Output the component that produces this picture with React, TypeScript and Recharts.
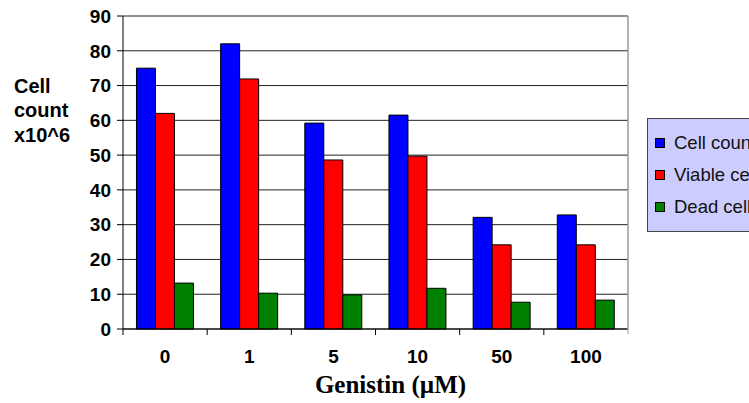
import { BarChart, Bar, XAxis, YAxis, CartesianGrid, Legend } from 'recharts';

// Genistin doses on the category axis (µM)
const doses = ['0', '1', '5', '10', '50', '100'];

// Counts per dose, x10^6 cells
const cellCount = [75, 82, 59.2, 61.5, 32.1, 32.8];
const viableCells = [62, 71.9, 48.6, 49.7, 24.2, 24.2];
const deadCells = [13.2, 10.3, 9.8, 11.7, 7.7, 8.3];

const yTicks = [0, 10, 20, 30, 40, 50, 60, 70, 80, 90];

const SERIES = [
  { key: 'cellCount', name: 'Cell count', color: '#0000FF' },
  { key: 'viableCells', name: 'Viable cells', color: '#FF0000' },
  { key: 'deadCells', name: 'Dead cells', color: '#008000' },
];

const SANS = "Arial, 'Liberation Sans', sans-serif";
const SERIF = "'Times New Roman', 'Liberation Serif', serif";

const data = doses.map((dose, i) => ({
  dose,
  cellCount: cellCount[i],
  viableCells: viableCells[i],
  deadCells: deadCells[i],
}));

// Category tick: label at the band centre, tick marks on the band edges
function DoseTick(props: any) {
  const { x, y, payload, index } = props;
  const half = payload.offset ?? 0;
  const last = index === doses.length - 1;
  return (
    <g>
      <line x1={x - half} x2={x - half} y1={y} y2={y + 6} stroke="#000" />
      {last && <line x1={x + half} x2={x + half} y1={y - 313} y2={y + 5} stroke="#999" />}
      <text
        x={x}
        y={y + 34}
        textAnchor="middle"
        fontFamily={SANS}
        fontWeight="bold"
        fontSize={19}
        fill="#000"
      >
        {payload.value}
      </text>
    </g>
  );
}

function LegendBox() {
  return (
    <div
      style={{
        width: 140,
        height: 114,
        boxSizing: 'border-box',
        background: '#CCCCFF',
        border: '1px solid #444',
        position: 'relative',
        fontFamily: SANS,
        fontSize: 18.5,
        color: '#111',
      }}
    >
      {SERIES.map((s, i) => (
        <div
          key={s.key}
          style={{
            position: 'absolute',
            left: 7,
            top: 14 + i * 32,
            display: 'flex',
            alignItems: 'center',
            whiteSpace: 'nowrap',
            lineHeight: '20px',
          }}
        >
          <span
            style={{
              display: 'inline-block',
              width: 8,
              height: 8,
              background: s.color,
              border: '1px solid #000',
              marginRight: 9,
            }}
          />
          {s.name}
        </div>
      ))}
    </div>
  );
}

export default function App() {
  return (
    <div
      style={{
        position: 'absolute',
        left: 0,
        top: 0,
        width: 749,
        height: 403,
        overflow: 'hidden',
        background: '#fff',
      }}
    >
      <BarChart
        width={749}
        height={403}
        data={data}
        margin={{ top: 16, right: 0, bottom: 0, left: 0 }}
        barCategoryGap="16%"
        barGap={0}
      >
        <CartesianGrid vertical={false} stroke="#222" />
        <XAxis
          dataKey="dose"
          height={74}
          axisLine={{ stroke: '#000' }}
          tickLine={false}
          tickSize={0}
          tickMargin={0}
          interval={0}
          tick={<DoseTick />}
          label={{
            content: (p: any) => {
              const vb = p.viewBox;
              return (
                <text
                  x={vb.x + vb.width / 2 + 15}
                  y={vb.y + 64}
                  textAnchor="middle"
                  fontFamily={SERIF}
                  fontWeight="bold"
                  fontSize={25}
                  fill="#000"
                >
                  Genistin (µM)
                </text>
              );
            },
          }}
        />
        <YAxis
          width={123}
          domain={[0, 90]}
          ticks={yTicks}
          interval={0}
          axisLine={{ stroke: '#000' }}
          tickLine={{ stroke: '#000' }}
          tickSize={6}
          tickMargin={6}
          tick={{ fill: '#000', fontFamily: SANS, fontWeight: 'bold', fontSize: 19 }}
          label={{
            content: () => (
              <text fontFamily={SANS} fontWeight="bold" fontSize={20} fill="#000">
                <tspan x={14} y={93}>Cell</tspan>
                <tspan x={14} y={117}>count</tspan>
                <tspan x={14} y={142}>x10^6</tspan>
              </text>
            ),
          }}
        />
        <YAxis yAxisId="frame" orientation="right" width={121} domain={[0, 90]} tick={false} tickLine={false} axisLine={{ stroke: '#999' }} />
        <Legend
          layout="vertical"
          align="center"
          verticalAlign="middle"
          content={() => <LegendBox />}
          wrapperStyle={{ left: 647, top: 118, width: 140, height: 114 }}
        />
        {SERIES.map((s) => (
          <Bar
            key={s.key}
            dataKey={s.key}
            name={s.name}
            fill={s.color}
            stroke="#000"
            strokeWidth={1}
            isAnimationActive={false}
          />
        ))}
      </BarChart>
    </div>
  );
}
